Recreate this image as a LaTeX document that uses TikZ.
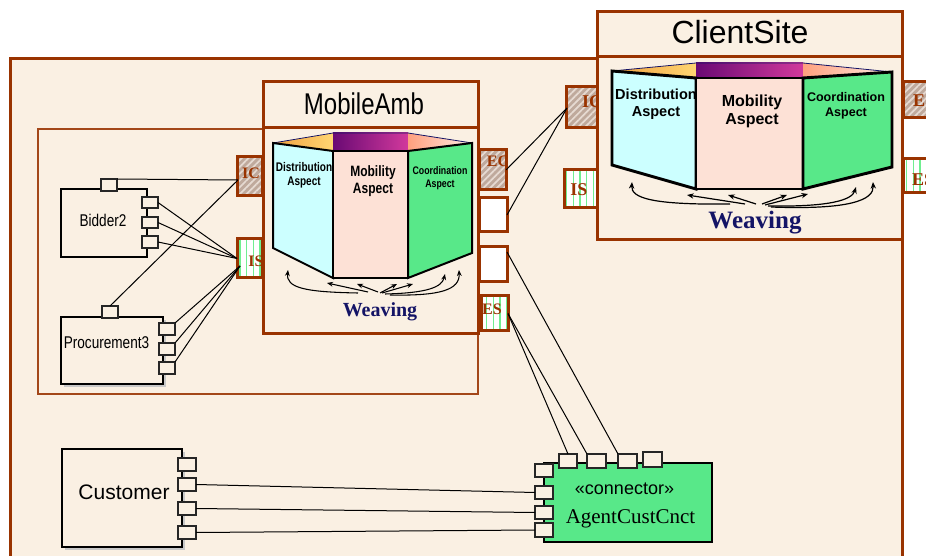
\documentclass[tikz,border=0pt]{standalone}
\usepackage{fontspec}
\setmainfont{Liberation Serif}
\newfontfamily\sansf{Liberation Sans}
\newfontfamily\narrowf{Liberation Sans}[FakeStretch=0.8]
\usetikzlibrary{fit,patterns.meta,arrows.meta}

\definecolor{cream}{HTML}{FAF0E3}
\definecolor{brn}{HTML}{993300}
\definecolor{hatchbase}{HTML}{BFA99C}
\definecolor{hatchline}{HTML}{E6DAD2}
\definecolor{stripegreen}{HTML}{70EE90}
\definecolor{panelcyan}{HTML}{CCFFFF}
\definecolor{panelpeach}{HTML}{FDE1D6}
\definecolor{panelgreen}{HTML}{58E889}
\definecolor{roofpurpleA}{HTML}{6A0A74}
\definecolor{roofpurpleB}{HTML}{D2399C}
\definecolor{rooforange}{HTML}{F0A040}
\definecolor{roofyellow}{HTML}{FFD672}
\definecolor{roofsalmon}{HTML}{FFA07E}
\definecolor{roofpale}{HTML}{FFEDE6}
\definecolor{weavenavy}{HTML}{141466}
\definecolor{shadowgray}{HTML}{C8C8C8}

\newcommand\fsz[2]{\fontsize{#1}{#2}\selectfont}
% rectangular node spanning two corner points
\newcommand\rectnode[4]{\node[boxfit,#2,fit={#3 #4}] (#1) {};}

\tikzset{
  boxfit/.style={inner sep=0pt, outer sep=0pt},
  brownbox/.style={draw=brn, line width=2.25pt, fill=cream},
  parentbox/.style={draw=brn!90, line width=1.7pt, fill=cream},
  hatchport/.style={draw=brn, line width=2.25pt, preaction={fill=hatchbase},
    pattern={Lines[angle=45,distance=3.6pt,line width=1.3pt]}, pattern color=hatchline},
  stripeport/.style={draw=brn, line width=2.25pt, preaction={fill=white},
    pattern={Lines[angle=90,distance=5pt,line width=1pt]}, pattern color=stripegreen},
  plainport/.style={draw=brn, line width=2.25pt, fill=white},
  comp/.style={draw=black, line width=0.8pt, fill=cream},
  cport/.style={draw=black!85, line width=0.8pt, fill=cream},
  conn/.style={draw=black, line width=0.9pt, fill=panelgreen},
  wire/.style={draw=black, line width=0.75pt},
  txt/.style={inner sep=0pt, outer sep=0pt, anchor=base},
  portlbl/.style={txt, text=brn},
  aspect/.style={inner sep=0pt, align=center, text=black},
  panelthin/.style={draw=black, line width=1.5pt, line join=miter},
  panelthick/.style={draw=black, line width=2.2pt, line join=miter},
  weave/.style={-{Stealth[length=4.5pt,width=3.6pt]}, line width=0.8pt},
  weavebig/.style={-{Stealth[length=5pt,width=4pt]}, line width=0.9pt},
}

\begin{document}
\begin{tikzpicture}[x=0.75pt,y=-0.75pt]
\useasboundingbox (0,0) rectangle (926,556);
\clip (0,0) rectangle (926,556);
\fill[white] (0,0) rectangle (926,556);

% outer system frame
\draw[brownbox] (10,59) rectangle (902,640);

% composite that holds Bidder2 and Procurement3
\rectnode{parent}{parentbox}{(38,129)}{(478,394)}

% ---------- components inside the composite ----------
\rectnode{bidder}{comp}{(61,189)}{(147,257)}
\rectnode{bidTop}{cport}{(101,179)}{(117,191)}
\rectnode{bidP1}{cport}{(142,197)}{(158,208)}
\rectnode{bidP2}{cport}{(142,217)}{(158,228)}
\rectnode{bidP3}{cport}{(142,236)}{(158,248)}
\node[txt,font=\narrowf\fsz{12.75pt}{14pt}] (bidderLbl) at (103,227) {Bidder2};

\fill[shadowgray] (64,320) rectangle (166,387);
\rectnode{procure}{comp}{(61,317)}{(163,384)}
\rectnode{proTop}{cport}{(102,306)}{(118,318)}
\rectnode{proP1}{cport}{(159,323)}{(175,335)}
\rectnode{proP2}{cport}{(159,343)}{(175,355)}
\rectnode{proP3}{cport}{(159,362)}{(175,374)}
\node[txt,font=\narrowf\fsz{12.75pt}{14pt}] (procureLbl) at (106.5,349) {Procurement3};

% ---------- MobileAmb ports ----------
\rectnode{maIC}{hatchport}{(237,157)}{(262,196)}
\rectnode{maIS}{stripeport}{(237,239)}{(262,278)}
\rectnode{maEC}{hatchport}{(479,150)}{(506,190)}
\rectnode{maB1}{plainport}{(479,198)}{(507,232)}
\rectnode{maB2}{plainport}{(479,247)}{(507,282)}
\rectnode{maES}{stripeport}{(481,296)}{(508,331)}
\node[portlbl,font=\bfseries\fsz{12pt}{13pt}] (maICl) at (251,179) {IC};
\node[portlbl,font=\bfseries\fsz{12pt}{13pt}] (maISl) at (256,267) {IS};
\node[portlbl,font=\bfseries\fsz{12pt}{13pt}] (maECl) at (498,167) {EC};
\node[portlbl,font=\bfseries\fsz{12pt}{13pt}] (maESl) at (492,315) {ES};

% ---------- ClientSite ports ----------
\rectnode{csIC}{hatchport}{(566,87)}{(597,128)}
\rectnode{csIS}{stripeport}{(564,170)}{(597,208)}
\rectnode{csEC}{hatchport}{(903,82)}{(945,118)}
\rectnode{csES}{stripeport}{(903,159)}{(945,193)}
\node[portlbl,font=\bfseries\fsz{13.5pt}{15pt}] (csICl) at (592,108) {IC};
\node[portlbl,font=\bfseries\fsz{13.5pt}{15pt}] (csISl) at (579,196) {IS};
\node[portlbl,font=\bfseries\fsz{13.5pt}{15pt},anchor=base west] (csECl) at (913,107) {EC};
\node[portlbl,font=\bfseries\fsz{13.5pt}{15pt},anchor=base west] (csESl) at (912,186) {ES};

% ---------- MobileAmb part ----------
\rectnode{maTitle}{brownbox}{(263,82)}{(478,128)}
\rectnode{maBody}{brownbox}{(263,128)}{(478,334)}
\node[txt,font=\narrowf\fsz{22.5pt}{24pt}] (maName) at (364,115) {MobileAmb};

% aspect panels of MobileAmb
\shade[left color=rooforange, right color=roofyellow] (273,143) -- (333,133) -- (333,151) -- cycle;
\shade[left color=roofpurpleA, right color=roofpurpleB] (333,133) rectangle (408,151);
\shade[left color=roofsalmon, right color=roofpale] (408,133) -- (472,143) -- (408,151) -- cycle;
\draw[weavenavy, line width=0.6pt] (273,143) -- (333,133) -- (408,133) -- (472,143);
\draw[panelthin, fill=panelcyan] (273,143) -- (333,151) -- (333,278) -- (273,248) -- cycle;
\draw[panelthin, fill=panelpeach] (333,151) rectangle (408,278);
\draw[panelthin, fill=panelgreen] (408,151) -- (472,143) -- (472,253) -- (408,278) -- cycle;
\node[aspect,font=\narrowf\bfseries\fsz{9.4pt}{10.6pt}] (maDist) at (304,175) {Distribution\\Aspect};
\node[aspect,font=\narrowf\bfseries\fsz{11.25pt}{12.6pt}] (maMob) at (373,181) {Mobility\\Aspect};
\node[aspect,font=\narrowf\bfseries\fsz{8.25pt}{9.6pt}] (maCoord) at (440,178) {Coordination\\Aspect};

\draw[weave] (358,293) .. controls (305,292) and (286,288) .. (288,270);
\draw[weave] (368,292) -- (327,283);
\draw[weave] (378,292) -- (357,284);
\draw[weave] (380,293) -- (397,284);
\draw[weave] (382,293) -- (413,284);
\draw[weave] (385,294) .. controls (428,293) and (442,287) .. (445,274);
\draw[weave] (390,295) .. controls (440,296) and (460,290) .. (459,270);
\node[txt,font=\bfseries\fsz{15pt}{16pt},text=weavenavy] (maWeave) at (380,317) {Weaving};

% ---------- ClientSite part ----------
\rectnode{csTitle}{brownbox}{(597,12)}{(902,57)}
\rectnode{csBody}{brownbox}{(597,57)}{(902,240)}
\node[txt,font=\sansf\fsz{24pt}{26pt}] (csName) at (740,44) {ClientSite};

\shade[left color=rooforange, right color=roofyellow] (612,71) -- (696,63) -- (696,78) -- cycle;
\shade[left color=roofpurpleA, right color=roofpurpleB] (696,63) rectangle (803,78);
\shade[left color=roofsalmon, right color=roofpale] (803,63) -- (892,72) -- (803,78) -- cycle;
\draw[weavenavy, line width=0.6pt] (612,71) -- (696,63) -- (803,63) -- (892,72);
\draw[panelthick, fill=panelcyan] (612,71) -- (696,78) -- (696,189) -- (612,165) -- cycle;
\draw[panelthick, fill=panelpeach] (696,78) rectangle (803,189);
\draw[panelthick, fill=panelgreen] (803,78) -- (892,72) -- (892,167) -- (803,189) -- cycle;
\node[aspect,font=\sansf\bfseries\fsz{10.9pt}{12.8pt}] (csDist) at (656,104) {Distribution\\Aspect};
\node[aspect,font=\sansf\bfseries\fsz{12pt}{13.6pt}] (csMob) at (752,111) {Mobility\\Aspect};
\node[aspect,font=\sansf\bfseries\fsz{9.4pt}{11.4pt}] (csCoord) at (846,106) {Coordination\\Aspect};

\draw[weavebig] (730,204) .. controls (652,205) and (631,198) .. (632,182);
\draw[weavebig] (745,204) -- (687,195);
\draw[weavebig] (756,204) -- (728,195);
\draw[weavebig] (762,204) -- (787,195);
\draw[weavebig] (765,205) -- (808,194);
\draw[weavebig] (768,206) .. controls (830,207) and (852,200) .. (856,187);
\draw[weavebig] (771,207) .. controls (850,210) and (874,200) .. (873,182);
\node[txt,font=\bfseries\fsz{18.75pt}{20pt},text=weavenavy] (csWeave) at (755,229) {Weaving};

% ---------- Customer ----------
\fill[shadowgray] (65,452) rectangle (185,550);
\rectnode{customer}{comp}{(62,449)}{(182,547)}
\rectnode{cuP1}{cport}{(178,458)}{(196,471)}
\rectnode{cuP2}{cport}{(178,478)}{(196,491)}
\rectnode{cuP3}{cport}{(178,502)}{(196,515)}
\rectnode{cuP4}{cport}{(178,526)}{(196,539)}
\node[txt,font=\sansf\fsz{15.75pt}{17pt}] (customerLbl) at (124,499) {Customer};

% ---------- AgentCustCnct connector ----------
\rectnode{agent}{conn}{(544,463)}{(712,542)}
\rectnode{agT1}{cport}{(559,454)}{(577,468)}
\rectnode{agT2}{cport}{(587,454)}{(606,468)}
\rectnode{agT3}{cport}{(618,454)}{(637,468)}
\rectnode{agT4}{cport}{(643,452)}{(662,467)}
\rectnode{agL1}{cport}{(535,464)}{(553,477)}
\rectnode{agL2}{cport}{(535,486)}{(553,499)}
\rectnode{agL3}{cport}{(535,506)}{(553,519)}
\rectnode{agL4}{cport}{(535,523)}{(553,537)}
\node[txt,font=\sansf\fsz{13.5pt}{15pt}] (stereo) at (624.5,494) {«connector»};
\node[txt,font=\fsz{15.75pt}{17pt}] (agentLbl) at (630.5,523) {AgentCustCnct};

% ---------- wiring ----------
\coordinate (icHub) at (238,180);
\coordinate (isHub) at (240,266);
\coordinate (csHub) at (567,108);
\coordinate (b2Out) at (507,252);

\draw[wire] (bidTop.north east) -- (icHub);
\draw[wire] (proTop.north) -- (icHub);
\draw[wire] (bidP1.east) -- (maIS.west);
\draw[wire] (bidP2.east) -- (maIS.west);
\draw[wire] (bidP3.east) -- (maIS.west);
\draw[wire] (proP1.north east) -- (isHub);
\draw[wire] (proP2.north east) -- (isHub);
\draw[wire] (proP3.north east) -- (isHub);

\draw[wire] (maEC.east) -- (csHub);
\draw[wire] (maB1.east) -- (csHub);
\draw[wire] (b2Out) -- (agT3.north west);
\draw[wire] (maES.east) -- (agT1.north);
\draw[wire] (maES.east) -- (agT2.north west);

\draw[wire] (cuP2.east) -- (agL2.west);
\draw[wire] (cuP3.east) -- (agL3.west);
\draw[wire] (cuP4.east) -- (agL4.west);
\end{tikzpicture}
\end{document}
